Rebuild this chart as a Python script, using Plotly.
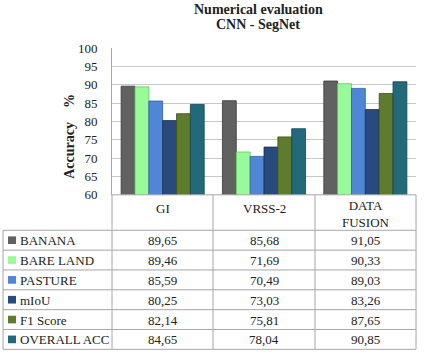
import plotly.graph_objects as go

categories = ["GI", "VRSS-2", "DATA FUSION"]
header_labels = ["GI", "VRSS-2", "DATA<br>FUSION"]
series_names = ["BANANA", "BARE LAND", "PASTURE", "mIoU", "F1 Score", "OVERALL ACC"]
banana = [89.65, 85.68, 91.05]
bare_land = [89.46, 71.69, 90.33]
pasture = [85.59, 70.49, 89.03]
miou = [80.25, 73.03, 83.26]
f1_score = [82.14, 75.81, 87.65]
overall_acc = [84.65, 78.04, 90.85]
y_ticks = [60, 65, 70, 75, 80, 85, 90, 95, 100]

series_values = [banana, bare_land, pasture, miou, f1_score, overall_acc]
colors = ["#616161", "#99fa99", "#4f86d6", "#284a7c", "#5f7b2d", "#22697a"]
edge_colors = ["#3a3a3a", "#5fc85f", "#2f5fa6", "#18304f", "#3d5119", "#134552"]

W, H = 429, 360
def px_x(p):
    return p / W
def px_y(p):
    return 1 - p / H

SERIF = "Liberation Serif, serif"
TXT = "#222222"
GRID = "#a6a6a6"

fig = go.Figure()
for name, vals, c, ec in zip(series_names, series_values, colors, edge_colors):
    fig.add_trace(go.Bar(
        x=categories, y=vals, name=name,
        marker=dict(color=c, line=dict(color=ec, width=0.8)),
        showlegend=False, hoverinfo="x+y+name",
    ))

def fmt(v):
    return f"{v:.2f}".replace(".", ",")

# ---- data table (layout geometry) ----
tbl_left, tbl_right = 3, 416
col_edges = [112, 213, 315, 416]
floor_y = 196
hdr_bottom = 233
row_h = 20.7
n_rows = len(series_names)
tbl_bottom = hdr_bottom + row_h * n_rows

shapes = []
def hline(y, x0, x1):
    shapes.append(dict(type="line", xref="paper", yref="paper",
                       x0=px_x(x0), x1=px_x(x1), y0=px_y(y), y1=px_y(y),
                       line=dict(color=GRID, width=1)))
def vline(x, y0, y1):
    shapes.append(dict(type="line", xref="paper", yref="paper",
                       x0=px_x(x), x1=px_x(x), y0=px_y(y0), y1=px_y(y1),
                       line=dict(color=GRID, width=1)))

hline(floor_y, col_edges[0], tbl_right)
for r in range(n_rows + 1):
    hline(hdr_bottom + r * row_h, tbl_left, tbl_right)
vline(tbl_left, hdr_bottom, tbl_bottom)
for x in col_edges:
    vline(x, floor_y, tbl_bottom)

annotations = []
def ann(text, x, y, xanchor="center", size=13, color=TXT, bold=False, angle=0):
    annotations.append(dict(text=f"<b>{text}</b>" if bold else text, x=px_x(x), y=px_y(y),
                            xref="paper", yref="paper", showarrow=False,
                            xanchor=xanchor, yanchor="middle", textangle=angle,
                            font=dict(family=SERIF, size=size, color=color)))

# header
for i, lab in enumerate(header_labels):
    cx = (col_edges[i] + col_edges[i + 1]) / 2
    if "<br>" in lab:
        ann(lab, cx, 216.5)
    else:
        ann(lab, cx, 210)

# rows
for r, (name, vals, c) in enumerate(zip(series_names, series_values, colors)):
    cy = hdr_bottom + row_h * (r + 0.5)
    shapes.append(dict(type="rect", xref="paper", yref="paper",
                       x0=px_x(8), x1=px_x(16), y0=px_y(cy - 4), y1=px_y(cy + 4),
                       fillcolor=c, line=dict(width=0)))
    ann(name, 18, cy + 0.5, xanchor="left", size=13)
    for i in range(len(categories)):
        cx = (col_edges[i] + col_edges[i + 1]) / 2
        ann(fmt(vals[i]), cx, cy + 0.5)

# titles
ann("Numerical evaluation", 258, 3, size=14, bold=True)
ann("CNN - SegNet", 258, 18, size=14, bold=True)
ann("Accuracy", 70, 150, size=14, bold=True, angle=-90)
ann("%", 70, 98, size=14, bold=True, angle=-90)

fig.update_layout(
    width=W, height=H,
    margin=dict(l=0, r=0, t=0, b=0),
    paper_bgcolor="white", plot_bgcolor="white",
    barmode="group", bargap=0.18, bargroupgap=0.0,
    xaxis=dict(domain=[px_x(112), px_x(416)], showticklabels=False, showgrid=False,
               zeroline=False, showline=False, fixedrange=True),
    yaxis=dict(domain=[px_y(196), px_y(43)], range=[60, 100], tickvals=y_ticks,
               showgrid=True, gridcolor="#c8c8c8", gridwidth=1, zeroline=False,
               showline=True, linecolor=GRID, linewidth=1,
               ticks="", ticklabelstandoff=11,
               tickfont=dict(family=SERIF, size=13, color=TXT)),
    shapes=shapes,
    annotations=annotations,
)

fig.write_html("out.html")
